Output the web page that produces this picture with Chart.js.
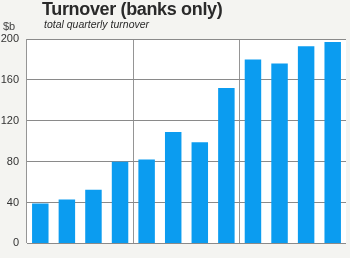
<!DOCTYPE html>
<html>
<head>
<meta charset="utf-8">
<script src="https://cdn.jsdelivr.net/npm/chart.js@4/dist/chart.umd.min.js"></script>
<style>
  html, body { margin:0; padding:0; background:#f4f4f1; }
  #wrap { position:relative; width:350px; height:258px; }
  #projChart { position:absolute; left:0; top:0; }
  .t { position:absolute; font-family:'Liberation Sans', Arial, sans-serif; color:#2a2a2a; white-space:nowrap; }
  #title { left:42px; top:-1px; font-size:18px; font-weight:bold; letter-spacing:-0.35px; }
  #sub { left:44px; top:18px; font-size:10.5px; font-style:italic; }
  #unit { left:3px; top:20px; font-size:11px; color:#444; }
</style>
</head>
<body>
<div id="wrap">
  <canvas id="projChart" width="350" height="258"></canvas>
  <div class="t" id="title">Turnover (banks only)</div>
  <div class="t" id="sub">total quarterly turnover</div>
  <div class="t" id="unit">$b</div>
</div>
<script>
const quarters = ['Q1','Q2','Q3','Q4','Q1','Q2','Q3','Q4','Q1','Q2','Q3','Q4'];
const turnover = [39, 43, 52.5, 80, 82, 109, 99, 152, 180, 176, 193, 197];
const yTicks = [0, 40, 80, 120, 160, 200];

// white plot background
const plotBg = {
  id: 'plotBg',
  beforeDraw(chart) {
    const a = chart.chartArea, c = chart.ctx;
    c.save();
    c.fillStyle = '#ffffff';
    c.fillRect(a.left, a.top, a.right - a.left, a.bottom - a.top);
    c.restore();
  }
};

const ctx = document.getElementById('projChart').getContext('2d');
const chart = new Chart(ctx, {
  type: 'bar',
  data: {
    labels: quarters,
    datasets: [{
      label: 'turnover',
      data: turnover,
      backgroundColor: '#0b9cf0',
      borderWidth: 0,
      categoryPercentage: 1,
      barPercentage: 0.62
    }]
  },
  options: {
    responsive: false,
    animation: false,
    layout: { padding: { top: 39, bottom: 5, right: 4, left: 0 } },
    plugins: { legend: { display: false }, tooltip: { enabled: false } },
    scales: {
      x: {
        ticks: { display: false },
        border: { display: false },
        grid: {
          offset: true,
          drawTicks: false,
          lineWidth: 1,
          color: c => ([0, 4, 8, 12].includes(c.index) ? '#959595' : 'rgba(0,0,0,0)')
        }
      },
      y: {
        min: 0,
        max: 200,
        afterFit: s => { s.width = 27; },
        afterBuildTicks: s => { s.ticks = yTicks.map(v => ({ value: v })); },
        border: { display: false },
        grid: { color: '#8a8a8a', drawTicks: false },
        ticks: {
          padding: 8,
          color: '#333',
          font: { family: "'Liberation Sans', Arial, sans-serif", size: 11 }
        }
      }
    }
  },
  plugins: [plotBg]
});
</script>
</body>
</html>
